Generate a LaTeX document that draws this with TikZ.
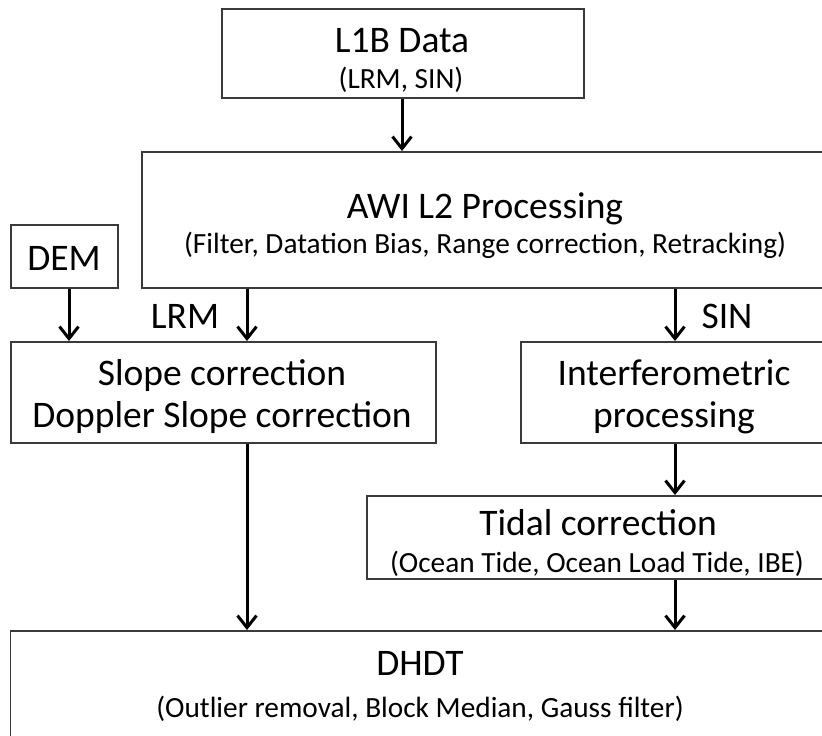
\documentclass[tikz,border=0pt]{standalone}
\usepackage{fontspec}
\setmainfont{Carlito}
\usetikzlibrary{arrows.meta}

\definecolor{frame}{RGB}{58,58,58}

\tikzset{
  box/.style={draw=frame, line width=1.5pt, rectangle, inner sep=0pt, anchor=north west, fill=white},
  ttl/.style={anchor=base, inner sep=0pt, font=\fontsize{37.5}{40}\selectfont},
  sub/.style={anchor=base, inner sep=0pt, font=\fontsize{29.3}{32}\selectfont},
  flow/.style={line width=3pt, -{Straight Barb[length=12pt, width=19pt, line width=3pt]}}
}

\begin{document}
\begin{tikzpicture}[x=1pt, y=-1pt]
  \useasboundingbox (0,0) rectangle (822,736);
  \clip (0,0) rectangle (822,736);
  \fill[white] (0,0) rectangle (822,736);

  % boxes
  \node[box, minimum width=362pt, minimum height=89pt]  (l1b)    at (221,8)   {};
  \node[box, minimum width=688pt, minimum height=136pt] (awi)    at (141,151) {};
  \node[box, minimum width=107pt, minimum height=63pt]  (dem)    at (10,224)  {};
  \node[box, minimum width=425pt, minimum height=101pt] (slope)  at (10,341)  {};
  \node[box, minimum width=309pt, minimum height=101pt] (interf) at (520,341) {};
  \node[box, minimum width=463pt, minimum height=83pt]  (tidal)  at (366,495) {};
  \node[box, minimum width=820pt, minimum height=115pt] (dhdt)   at (9.5,630) {};

  % box texts
  \node[ttl] (l1b-t)   at (402,52)  {L1B Data};
  \node[sub] (l1b-s)   at (401,88)  {(LRM, SIN)};
  \node[ttl] (awi-t)   at (485,218) {AWI L2 Processing};
  \node[sub] (awi-s)   at (485,253) {(Filter, Datation Bias, Range correction, Retracking)};
  \node[ttl] (dem-t)   at (64,270)  {DEM};
  \node[ttl] (slope-t) at (222,385) {Slope correction};
  \node[ttl] (slope-s) at (222,427) {Doppler Slope correction};
  \node[ttl] (intf-t)  at (674,385) {Interferometric};
  \node[ttl] (intf-s)  at (674,427) {processing};
  \node[ttl] (tidal-t) at (598,535) {Tidal correction};
  \node[sub] (tidal-s) at (597,572) {(Ocean Tide, Ocean Load Tide, IBE)};
  \node[ttl] (dhdt-t)  at (420,675) {DHDT};
  \node[sub] (dhdt-s)  at (420,717) {(Outlier removal, Block Median, Gauss filter)};

  % branch labels
  \node[ttl] (lrm) at (185,328) {LRM};
  \node[ttl] (sin) at (727,328) {SIN};

  % vertical lanes of the connectors
  \coordinate (c0) at (402,0);
  \coordinate (c1) at (69,0);
  \coordinate (c2) at (247,0);
  \coordinate (c3) at (675,0);

  % connectors
  \draw[flow] (l1b.south -| c0)    -- (awi.north -| c0);
  \draw[flow] (dem.south -| c1)    -- (slope.north -| c1);
  \draw[flow] (awi.south -| c2)    -- (slope.north -| c2);
  \draw[flow] (awi.south -| c3)    -- (interf.north -| c3);
  \draw[flow] (slope.south -| c2)  -- (dhdt.north -| c2);
  \draw[flow] (interf.south -| c3) -- (tidal.north -| c3);
  \draw[flow] (tidal.south -| c3)  -- (dhdt.north -| c3);
\end{tikzpicture}
\end{document}
